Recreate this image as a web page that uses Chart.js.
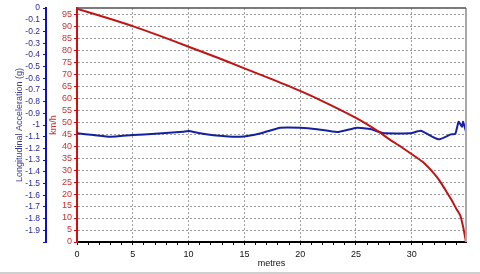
<!DOCTYPE html>
<html>
<head>
<meta charset="utf-8">
<script src="https://cdn.jsdelivr.net/npm/chart.js@4.4.1/dist/chart.umd.min.js"></script>
<style>
  html, body { margin: 0; padding: 0; background: #fff; }
  #wrap { position: relative; width: 480px; height: 274px; overflow: hidden; }
  #bottomLine { position: absolute; left: 0; right: 0; bottom: 0; height: 2px; background: #cfcfcf; }
</style>
</head>
<body>
<div id="wrap">
  <canvas id="c" width="480" height="274"></canvas>
  <div id="bottomLine"></div>
</div>
<script>
// ---- data ----
const speedDistance = [0, 2.5, 5, 7.5, 10, 12.5, 15, 17.5, 20, 22.5, 25, 27, 28, 29, 30, 31, 32, 32.5, 33, 33.5, 34, 34.35, 34.6, 34.8, 34.86];
const speedKmh      = [97.2, 93.7, 90, 85.8, 81.4, 77, 72.4, 67.8, 63, 57.6, 51.7, 46.1, 42.8, 39.8, 36.6, 33.3, 28.5, 25.5, 21.8, 18, 13.8, 11, 6.4, 1.5, 0];

const accelDistance = [0, 1.5, 3, 5, 7, 9.5, 10, 10.9, 12.5, 14.6, 16.5, 18.2, 20, 21.5, 23.3, 25.1, 26.3, 27.4, 29.9, 30.8, 32.4, 33.5, 33.9, 34.2, 34.5, 34.6, 34.86];
const accelG        = [-1.071, -1.085, -1.10, -1.085, -1.075, -1.057, -1.051, -1.068, -1.09, -1.10, -1.07, -1.023, -1.023, -1.035, -1.06, -1.023, -1.034, -1.068, -1.071, -1.049, -1.122, -1.08, -1.077, -0.972, -1.015, -0.972, -1.057];

const xTickLabels = ['0', '5', '10', '15', '20', '25', '30'];
const kmhTickLabels = ['0','5','10','15','20','25','30','35','40','45','50','55','60','65','70','75','80','85','90','95'];
const gTickLabels = ['0','-0.1','-0.2','-0.3','-0.4','-0.5','-0.6','-0.7','-0.8','-0.9','-1','-1.1','-1.2','-1.3','-1.4','-1.5','-1.6','-1.7','-1.8','-1.9'];

const X_MAX = 34.86, KMH_MAX = 97.5;
const FONT = 'Liberation Sans, Arial, sans-serif';

const frame = {
  id: 'frame',
  afterDatasetsDraw(chart) {
    const {ctx, chartArea: a} = chart;
    ctx.save();
    ctx.strokeStyle = '#a8a8a8';
    ctx.lineWidth = 2;
    ctx.beginPath(); ctx.moveTo(a.right, a.top); ctx.lineTo(a.right, a.bottom); ctx.stroke();
    ctx.strokeStyle = '#505050';
    ctx.lineWidth = 1.5;
    ctx.beginPath(); ctx.moveTo(a.left, a.top); ctx.lineTo(a.right, a.top); ctx.stroke();
    ctx.restore();
  }
};

const near = (v, arr) => arr.includes(String(Math.round(v * 10) / 10));

new Chart(document.getElementById('c'), {
  type: 'line',
  data: {
    datasets: [
      {
        label: 'Speed',
        data: speedDistance.map((d, i) => ({x: d, y: speedKmh[i]})),
        yAxisID: 'kmh',
        borderColor: '#c01414',
        borderWidth: 2,
        pointRadius: 0,
        tension: 0.2
      },
      {
        label: 'Acceleration',
        data: accelDistance.map((d, i) => ({x: d, y: accelG[i]})),
        yAxisID: 'g',
        borderColor: '#1420a0',
        borderWidth: 2,
        pointRadius: 0,
        tension: 0.15
      }
    ]
  },
  options: {
    responsive: false,
    animation: false,
    devicePixelRatio: 1,
    layout: { padding: { top: 8, right: 14, bottom: 2, left: 0 } },
    plugins: { legend: { display: false }, tooltip: { enabled: false } },
    scales: {
      x: {
        type: 'linear',
        min: 0, max: X_MAX,
        afterFit(s) { s.height = 30; },
        ticks: {
          stepSize: 1, autoSkip: false, maxRotation: 0, padding: 4, includeBounds: false,
          color: '#111', font: { family: FONT, size: 9 },
          callback(v) { return (Math.abs(v - Math.round(v)) < 1e-6 && xTickLabels.includes(String(Math.round(v)))) ? String(Math.round(v)) : ''; }
        },
        grid: {
          color(ctx) { const v = ctx.tick && ctx.tick.value; return (v > 0 && v < X_MAX - 0.5 && Math.round(v) % 5 === 0 && Math.abs(v - Math.round(v)) < 1e-6) ? '#9a9a9a' : 'rgba(0,0,0,0)'; },
          lineWidth: 1,
          tickColor: '#111', tickLength: 3
        },
        border: { color: '#000', width: 2, dash: [2, 2] },
        title: { display: true, text: 'metres', color: '#111', font: { family: FONT, size: 9 }, padding: { top: 1, bottom: 3 } }
      },
      kmh: {
        type: 'linear', position: 'left', weight: 0,
        min: 0, max: KMH_MAX,
        afterFit(s) { s.width = 31; },
        ticks: {
          stepSize: 5, autoSkip: false, padding: 2, includeBounds: false,
          color: '#c83232', font: { family: FONT, size: 9 },
          callback(v) { return kmhTickLabels.includes(String(v)) ? String(v) : ''; }
        },
        grid: {
          color(ctx) { const v = ctx.tick && ctx.tick.value; return (v > 0 && v <= 95) ? '#9a9a9a' : 'rgba(0,0,0,0)'; },
          lineWidth: 1,
          tickColor: '#d01010', tickLength: 3
        },
        border: { color: '#d01010', width: 2, dash: [2, 2] },
        title: { display: true, text: 'km/h', color: '#c83232', font: { family: FONT, size: 9 }, padding: { top: 2, bottom: 0 } }
      },
      g: {
        type: 'linear', position: 'left', weight: 1,
        min: -2, max: 0,
        afterFit(s) { s.width = 46; },
        ticks: {
          stepSize: 0.1, autoSkip: false, padding: 3,
          color: '#2a2a9a', font: { family: FONT, size: 8.5 },
          callback(v) { return near(v, gTickLabels) ? String(Math.round(v * 10) / 10) : ''; }
        },
        grid: { drawOnChartArea: false, tickColor: '#1010b0', tickLength: 3 },
        border: { color: '#1010c0', width: 2 },
        title: { display: true, text: 'Longitudinal Acceleration (g)', color: '#3a3a90', font: { family: FONT, size: 9 }, padding: { top: 14, bottom: 0 } }
      }
    }
  },
  plugins: [frame]
});
</script>
</body>
</html>
